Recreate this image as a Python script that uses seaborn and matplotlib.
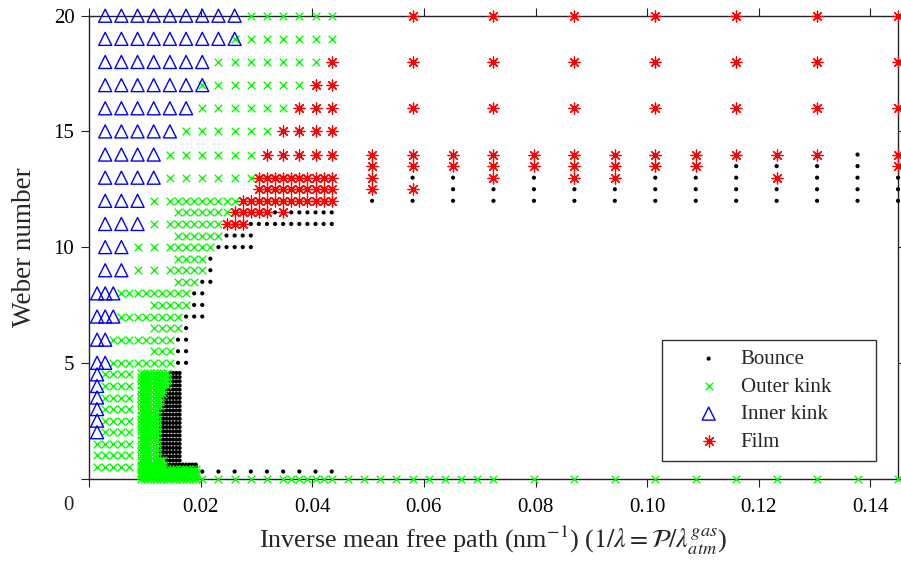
import pandas as pd
import matplotlib
matplotlib.use("Agg")
import matplotlib.pyplot as plt
import seaborn as sns

sns.set_style("ticks")
plt.rcParams["font.family"] = ["Liberation Serif", "DejaVu Serif"]
plt.rcParams["mathtext.fontset"] = "stix"

# inverse mean free path grids (nm^-1)
inv_mfp_fine = [0.00145, 0.00290, 0.00435, 0.00580, 0.00725, 0.00870, 0.01014, 0.01159,
                0.01304, 0.01449, 0.01594, 0.01739, 0.01884, 0.02029, 0.02174, 0.02319,
                0.02464, 0.02609, 0.02754, 0.02899, 0.03043, 0.03188, 0.03333, 0.03478,
                0.03623, 0.03768, 0.03913, 0.04058, 0.04203, 0.04348]
inv_mfp_dense = [0.00928, 0.00986, 0.01043, 0.01101, 0.01159, 0.01217, 0.01275,
                 0.01333, 0.01391, 0.01449, 0.01507, 0.01565, 0.01623]
inv_mfp_floor = [0.00928, 0.00986, 0.01043, 0.01101, 0.01159, 0.01217, 0.01275,
                 0.01333, 0.01391, 0.01449, 0.01507, 0.01565, 0.01623, 0.01681,
                 0.01739, 0.01797, 0.01855, 0.01913]
inv_mfp_wide = [0.05072, 0.05797, 0.06522, 0.07246, 0.07971, 0.08696, 0.09420,
                0.10145, 0.10870, 0.11594, 0.12319, 0.13043, 0.13768, 0.14493]

# regime maps, one string per Weber row:
# '.' bounce, 'x' outer kink, '^' inner kink, '*' film, '#' inner + outer kink
fine_weber = [20, 19, 18, 17, 16, 15, 14, 13, 12.5, 12, 11.5, 11, 10.5, 10, 9.5, 9,
              8.5, 8, 7.5, 7, 6.5, 6, 5.5, 5, 4.5, 4, 3.5, 3, 2.5, 2, 1.5, 1, 0.5]
fine_map = [
    " ^ ^ ^ ^ ^ ^ ^ ^ ^ x x x x x x",
    " ^ ^ ^ ^ ^ ^ ^ ^ # x x x x x x",
    " ^ ^ ^ ^ ^ ^ ^ x x x x x x x *",
    " ^ ^ ^ ^ ^ ^ # x x x x x x * *",
    " ^ ^ ^ ^ ^ ^ x x x x x x * * *",
    " ^ ^ ^ ^ ^ x x x x x x * * * *",
    " ^ ^ ^ ^ x x x x x x * * * * *",
    " ^ ^ ^ ^ x x x x x x**********",
    "                    **********",
    " ^ ^ ^ x xxxxxxxxx************",
    "          xxxxxxx*****.*......",
    " ^ ^ ^ x xxxxxxx***...........",
    "          xxxxxx....",
    " ^ ^ x x xxxxxx.....",
    "          xxxx.",
    " ^ ^ x x xxxxx.",
    "          xxx..",
    "^^^xxxxxxxxx..",
    "       xxxxx..",
    "^^^xxxxxxxx...",
    "       xxxx.",
    "^^xxxxxxxx..",
    "       xxx..",
    "^^xxxxxxxx..",
    "^xxxx",
    "^xxxx",
    "^xxxx",
    "^xxxx",
    "^xxxx",
    "^xxxx",
    "xxxxx",
    "xxxxx",
    "xxxxx",
]

dense_weber = [4.56, 4.38, 4.20, 4.02, 3.84, 3.66, 3.48, 3.30, 3.12, 2.94, 2.76,
               2.58, 2.40, 2.22, 2.04, 1.86, 1.68, 1.50, 1.32, 1.14, 0.96, 0.78]
dense_map = [
    "xxxxxxxxx....",
    "xxxxxxxxx....",
    "xxxxxxxxx....",
    "xxxxxxxxx....",
    "xxxxxxxx.....",
    "xxxxxxxx.....",
    "xxxxxxx......",
    "xxxxxxx......",
    "xxxxxxx......",
    "xxxxxx.......",
    "xxxxxx.......",
    "xxxxxx.......",
    "xxxxxx.......",
    "xxxxxx.......",
    "xxxxxx.......",
    "xxxxxx.......",
    "xxxxxx.......",
    "xxxxxx.......",
    "xxxxxx.......",
    "xxxxxx.......",
    "xxxxxx.......",
    "xxxxxxxx.....",
]

floor_weber = [0.0, 0.1, 0.2, 0.3, 0.4, 0.5, 0.6]
floor_map = [
    "xxxxxxxxxxxxxxxxxx",
    "xxxxxxxxxxxxxxxxxx",
    "xxxxxxxxxxxxxxxxxx",
    "xxxxxxxxxxxxxxxxxx",
    "xxxxxxxxxxxxxxxxxx",
    "xxxxxxxx..........",
    "xxxxxxxx..........",
]

wide_weber = [20, 18, 16, 14, 13.5, 13, 12.5, 12]
wide_map = [
    " * * * * * * *",
    " * * * * * * *",
    " * * * * * * *",
    "************.*",
    "*********....*",
    "*..*.**...*...",
    "**............",
    "..............",
]

# bounce row just above the axis and outer kink points on We = 0
bounce_low_x = [0.02029, 0.02319, 0.02609, 0.02899, 0.03188, 0.03478, 0.03768,
                0.04058, 0.04348]
bounce_low_weber = 0.3
outer_axis_x = [0.02029, 0.02319, 0.02609, 0.02899, 0.03188, 0.03478, 0.03623,
                0.03768, 0.03913, 0.04058, 0.04203, 0.04348, 0.04638, 0.04928,
                0.05217, 0.05507, 0.05797, 0.06087, 0.06377, 0.06667, 0.06957,
                0.07246, 0.07971, 0.08696, 0.09420, 0.10145, 0.10870, 0.11594,
                0.12319, 0.13043, 0.13768, 0.14493]

regimes = ["Bounce", "Outer kink", "Inner kink", "Film"]
codes = {".": ["Bounce"], "x": ["Outer kink"], "^": ["Inner kink"],
         "*": ["Film"], "#": ["Outer kink", "Inner kink"]}

records = []


def read_map(grid, webers, lines):
    for we, line in zip(webers, lines):
        assert len(line) <= len(grid), (we, line)
        for xv, ch in zip(grid, line):
            for r in codes.get(ch, []):
                records.append((xv, we, r))


read_map(inv_mfp_fine, fine_weber, fine_map)
read_map(inv_mfp_dense, dense_weber, dense_map)
read_map(inv_mfp_floor, floor_weber, floor_map)
read_map(inv_mfp_wide, wide_weber, wide_map)
for xv in bounce_low_x:
    records.append((xv, bounce_low_weber, "Bounce"))
for xv in outer_axis_x:
    records.append((xv, 0.0, "Outer kink"))

df = pd.DataFrame(records, columns=["inv_mfp", "weber", "regime"])

styles = {
    "Bounce": dict(marker="o", s=9, color="black", edgecolor="none", linewidth=0),
    "Outer kink": dict(marker="x", s=30, color="#00ff00", linewidth=1.0),
    "Inner kink": dict(marker="^", s=88, facecolor="none", edgecolor="#0000ff", linewidth=1.0),
    "Film": dict(marker=(8, 2, 0), s=62, color="#ff0000", linewidth=0.9),
}

fig = plt.figure(figsize=(9.01, 5.61), dpi=100)
ax = fig.add_axes([89 / 901, 1 - 478.5 / 561, 809 / 901, 462.8 / 561])

for r in regimes:
    sub = df[df["regime"] == r]
    sns.scatterplot(data=sub, x="inv_mfp", y="weber", ax=ax, label=r,
                    clip_on=False, zorder=3, **styles[r])

ax.set_xlim(0, 0.14493)
ax.set_ylim(0, 20)
ax.set_xticks([0, 0.02, 0.04, 0.06, 0.08, 0.10, 0.12, 0.14])
ax.set_xticklabels(["", "0.02", "0.04", "0.06", "0.08", "0.10", "0.12", "0.14"])
ax.set_yticks([0, 5, 10, 15, 20])
ax.set_yticklabels(["", "5", "10", "15", "20"])
ax.annotate("0", xy=(0, 0), xycoords="axes fraction", xytext=(-15, -19.5),
            textcoords="offset points", ha="center", va="center", fontsize=15)

for side in ["left", "right", "top", "bottom"]:
    ax.spines[side].set_visible(True)
    ax.spines[side].set_color("#222222")
    ax.spines[side].set_linewidth(1.0)
ax.tick_params(axis="both", direction="out", length=5.5, width=0.8, colors="#222222",
               labelcolor="black", top=True, right=True, labelsize=15)
ax.tick_params(axis="x", pad=8.5)
ax.tick_params(axis="y", pad=5)

ax.set_xlabel(r"Inverse mean free path (nm$^{-1}$) ($1/\lambda = \mathcal{P}/\lambda^{gas}_{atm}$)",
              fontsize=18.8, labelpad=5)
ax.set_ylabel("Weber number", fontsize=19.5, labelpad=12)

leg = ax.legend(loc="upper left", bbox_to_anchor=(0.708, 0.299, 0.265, 0), mode="expand",
                borderaxespad=0, fancybox=False, framealpha=1, edgecolor="#333333",
                fontsize=15, handlelength=3.6, handletextpad=-0.26, borderpad=0.45,
                labelspacing=0.38, scatterpoints=1, markerscale=1.0)
leg.get_frame().set_linewidth(1.0)

fig.savefig("out.png", dpi=100)
